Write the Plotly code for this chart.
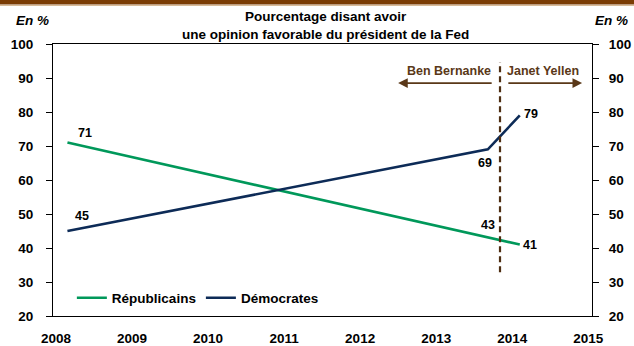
import plotly.graph_objects as go

# ---- data ----
dates = [2008.15, 2013.68, 2014.10]
republicains = [71, 43, 41]
democrates = [45, 69, 79]
series_names = ["Républicains", "Démocrates"]
x_ticks = [2008, 2009, 2010, 2011, 2012, 2013, 2014, 2015]
y_ticks = [20, 30, 40, 50, 60, 70, 80, 90, 100]
transition_date = 2013.84
transition_span = [32.9, 94.7]
chairs = ["Ben Bernanke", "Janet Yellen"]

GREEN = "#00985a"
NAVY = "#0d2b57"
BROWN = "#4e2e12"
FONT = "Liberation Sans"

W, H = 634, 346
L, R, T, B = 53, 42, 44, 30

fig = go.Figure()
fig.add_trace(go.Scatter(x=dates, y=republicains, mode="lines", name=series_names[0],
                         line=dict(color=GREEN, width=2.6)))
fig.add_trace(go.Scatter(x=dates, y=democrates, mode="lines", name=series_names[1],
                         line=dict(color=NAVY, width=2.6)))
# invisible trace for the right axis
fig.add_trace(go.Scatter(x=[dates[0]], y=[None], yaxis="y2", showlegend=False,
                         hoverinfo="skip", mode="lines"))

lab_font = dict(family=FONT, size=12.5, color="#000000", weight="bold")
# data labels: (series, index, dx, dy)
label_specs = [
    (republicains, 0, 18, 10),
    (democrates, 0, 15, 15),
    (democrates, 1, -3, -14),
    (republicains, 1, 0, 13),
    (republicains, 2, 10, 0),
    (democrates, 2, 11, 1),
]
for ser, i, dx, dy in label_specs:
    fig.add_annotation(x=dates[i], y=ser[i], text=str(ser[i]), showarrow=False,
                       xshift=dx, yshift=dy, font=lab_font)

# transition dashed line
fig.add_shape(type="line", x0=transition_date, x1=transition_date,
              y0=transition_span[0], y1=transition_span[1],
              line=dict(color=BROWN, width=2.2, dash="6px,4px"))

ARROW = "#5a3818"
chair_font = dict(family=FONT, size=12.5, color=ARROW, weight="bold")
fig.add_annotation(x=2012.50, y=88.5, ax=2013.75, ay=88.5, axref="x", ayref="y",
                   text="", showarrow=True, arrowhead=2, arrowsize=1.2, arrowwidth=1.6,
                   arrowcolor=ARROW)
fig.add_annotation(x=2014.92, y=88.5, ax=2013.93, ay=88.5, axref="x", ayref="y",
                   text="", showarrow=True, arrowhead=2, arrowsize=1.2, arrowwidth=1.6,
                   arrowcolor=ARROW)
fig.add_annotation(x=2013.17, y=92.1, text=chairs[0], showarrow=False, font=chair_font)
fig.add_annotation(x=2014.41, y=92.1, text=chairs[1], showarrow=False, font=chair_font)

ph = H - T - B
pw = W - L - R
# titles
title_font = dict(family=FONT, size=13.5, color="#000000", weight="bold")
fig.add_annotation(xref="paper", yref="paper", x=(325 - L) / pw, y=1 + (T - 25) / ph,
                   text="Pourcentage disant avoir<br>une opinion favorable du président de la Fed",
                   showarrow=False, font=title_font, xanchor="center", yanchor="middle")
ital = dict(family=FONT, size=13.5, color="#000000", weight="bold", style="italic")
fig.add_annotation(xref="paper", yref="paper", x=(32 - L) / pw, y=1 + (T - 20) / ph,
                   text="En %", showarrow=False, font=ital, xanchor="center", yanchor="middle")
fig.add_annotation(xref="paper", yref="paper", x=(611 - L) / pw, y=1 + (T - 20) / ph,
                   text="En %", showarrow=False, font=ital, xanchor="center", yanchor="middle")

# top brown band
fig.add_shape(type="rect", xref="paper", yref="paper", x0=-1, x1=2,
              y0=1 + (T - 4.5) / ph, y1=1 + (T + 2) / ph, line=dict(width=0),
              fillcolor="#7b3d05", layer="above")
fig.add_shape(type="line", xref="paper", yref="paper", x0=-1, x1=2,
              y0=1 + (T - 5.5) / ph, y1=1 + (T - 5.5) / ph, line=dict(width=1, color="#d8bb98"))

tick_font = dict(family=FONT, size=13.5, color="#000000", weight="bold")
fig.update_layout(
    width=W, height=H,
    margin=dict(l=L, r=R, t=T, b=B, autoexpand=False),
    paper_bgcolor="white", plot_bgcolor="white",
    showlegend=True,
    legend=dict(orientation="h", x=0.035, y=0.066, xanchor="left", yanchor="middle",
                font=dict(family=FONT, size=13.5, color="#000000", weight="bold"),
                itemwidth=30, tracegroupgap=0, bgcolor="rgba(0,0,0,0)"),
    xaxis=dict(range=[2007.96, 2015.05], tickvals=x_ticks, ticktext=[str(v) for v in x_ticks],
               showgrid=False, zeroline=False, showline=True, linecolor="#000000", linewidth=1,
               mirror=True, ticks="", tickfont=tick_font, ticklabelstandoff=10, automargin=False),
    yaxis=dict(range=[20, 100], tickvals=y_ticks, showgrid=False, zeroline=False,
               showline=True, linecolor="#000000", linewidth=1, ticks="outside", ticklen=6,
               tickcolor="#000000", tickfont=tick_font, ticklabelstandoff=10, automargin=False),
    yaxis2=dict(range=[20, 100], tickvals=y_ticks, overlaying="y", side="right",
                showgrid=False, zeroline=False, showline=True, linecolor="#000000", linewidth=1,
                ticks="outside", ticklen=6, tickcolor="#000000", tickfont=tick_font,
                ticklabelstandoff=7, automargin=False),
)

fig.write_html("out.html")
